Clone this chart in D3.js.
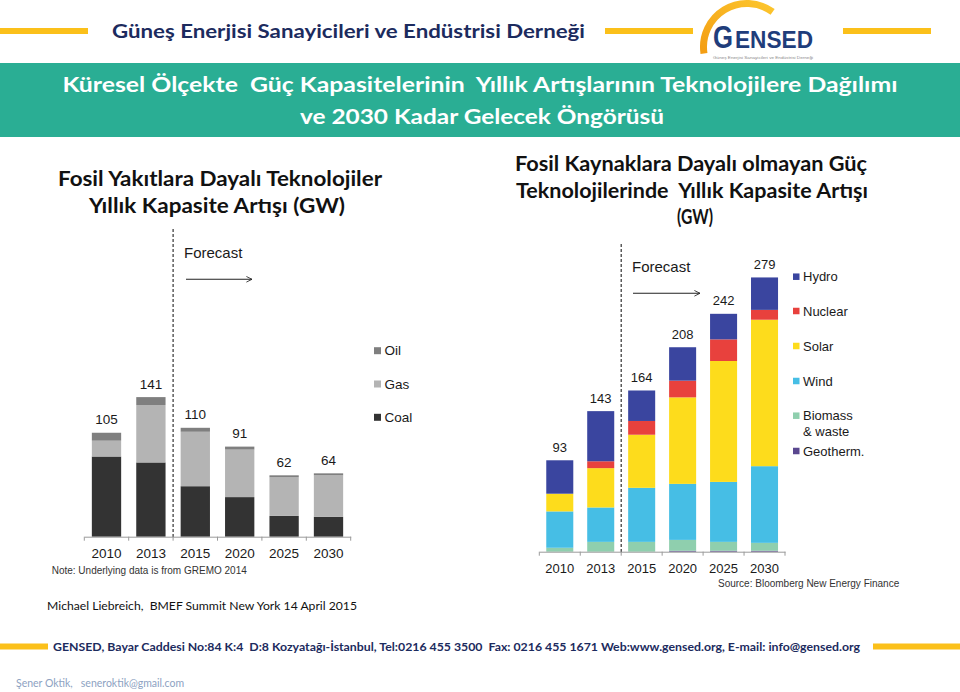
<!DOCTYPE html>
<html><head><meta charset="utf-8">
<script src="https://cdn.jsdelivr.net/npm/d3@7"></script>
<style>body{margin:0;background:#fff}svg{display:block}text{white-space:pre}</style>
</head><body>
<svg id="c" width="960" height="692"></svg>
<script>
// ---------- DATA ----------
const years = ["2010","2013","2015","2020","2025","2030"];
const fossilKeys = ["Coal","Gas","Oil"];
const coal = [81,75,51,40,21,20];
const gas  = [16,58,55,48,39,42];
const oil  = [8,8,4,3,2,2];
const fossilTotals = [105,141,110,91,62,64];
const fossilLegend = ["Oil","Gas","Coal"];

const renewKeys = ["Geotherm.","Biomass & waste","Wind","Solar","Nuclear","Hydro"];
const geotherm = [0,0,0,1,1,1];
const biomass  = [4,10,10,11,9,8];
const wind     = [37,35,55,57,61,78];
const solar    = [18,40,54,88,123,149];
const nuclear  = [0,7,14,17,22,10];
const hydro    = [34,51,31,34,26,33];
const renewTotals = [93,143,164,208,242,279];
const renewLegend = ["Hydro","Nuclear","Solar","Wind","Biomass & waste","Geotherm."];

// ---------- STYLE ----------
const CAL = "Lato, 'Open Sans', sans-serif";
const ARIAL = "'Liberation Sans', Arial, sans-serif";
const GOLD = "#fbc01a";
const NAVY = "#1c2b5e";
const fossilColor = {Coal:"#333333",Gas:"#b4b4b4",Oil:"#7f7f7f"};
const renewColor = {"Hydro":"#3a459f","Nuclear":"#e8413d","Solar":"#fddc1c","Wind":"#46bee5","Biomass & waste":"#8fcfae","Geotherm.":"#5a478f"};

const svg = d3.select("#c");
function fit(sel, w){
  sel.each(function(){
    const L = this.getComputedTextLength();
    if (Math.abs(L - w) > 1){ this.setAttribute("textLength", w); this.setAttribute("lengthAdjust","spacingAndGlyphs"); }
  });
  return sel;
}
function txt(x,y,s,opt){
  const t = svg.append("text").attr("x",x).attr("y",y).text(s)
    .attr("xml:space","preserve")
    .attr("font-family",opt.family||CAL).attr("font-size",opt.size)
    .attr("font-weight",opt.weight||"normal").attr("fill",opt.fill||"#000")
    .attr("text-anchor",opt.anchor||"start");
  if (opt.width) fit(t,opt.width);
  return t;
}

// ---------- HEADER ----------
svg.append("rect").attr("x",0).attr("y",28).attr("width",88).attr("height",6).attr("fill",GOLD);
svg.append("rect").attr("x",605).attr("y",28).attr("width",88).attr("height",6).attr("fill",GOLD);
svg.append("rect").attr("x",843).attr("y",28).attr("width",88).attr("height",6).attr("fill",GOLD);
txt(112,37.5,"Güneş Enerjisi Sanayicileri ve Endüstrisi Derneği",{size:19,weight:"bold",fill:NAVY,width:473});

// logo
const defs = svg.append("defs");
const grad = defs.append("linearGradient").attr("id","lg").attr("x1","0").attr("x2","1").attr("y1","1").attr("y2","0");
grad.append("stop").attr("offset","0").attr("stop-color","#f39c12");
grad.append("stop").attr("offset","1").attr("stop-color","#fdc82f");
svg.append("path").attr("transform","translate(747,47)")
  .attr("d", d3.arc()({innerRadius:40,outerRadius:47,startAngle:-1.72,endAngle:0.63}))
  .attr("fill","url(#lg)");
txt(713,48,"G",{family:ARIAL,size:32,weight:"bold",fill:"#1f3d7b",width:20});
txt(735,48,"ENSED",{family:ARIAL,size:23.5,weight:"bold",fill:"#1f3d7b",width:78});
txt(713,58.5,"Güneş Enerjisi Sanayicileri ve Endüstrisi Derneği",{family:ARIAL,size:4,fill:"#8a8a8a",width:100});

// teal band
svg.append("rect").attr("x",0).attr("y",63).attr("width",960).attr("height",74).attr("fill","#2aae94");
txt(480,91.5,"Küresel Ölçekte  Güç Kapasitelerinin  Yıllık Artışlarının Teknolojilere Dağılımı",{size:20,weight:"bold",fill:"#fff",anchor:"middle",width:835});
txt(482,123.5,"ve 2030 Kadar Gelecek Öngörüsü",{size:20,weight:"bold",fill:"#fff",anchor:"middle",width:364});

// subtitles
txt(220,186,"Fosil Yakıtlara Dayalı Teknolojiler",{size:21,weight:"bold",fill:"#111",anchor:"middle",width:324});
txt(217,213,"Yıllık Kapasite Artışı (GW)",{size:21,weight:"bold",fill:"#111",anchor:"middle",width:256});
txt(691,171,"Fosil Kaynaklara Dayalı olmayan Güç",{size:21,weight:"bold",fill:"#111",anchor:"middle",width:352});
txt(692,197.5,"Teknolojilerinde  Yıllık Kapasite Artışı",{size:21,weight:"bold",fill:"#111",anchor:"middle",width:352});
txt(695,224,"(GW)",{size:21,weight:"bold",fill:"#111",anchor:"middle",width:36});

// arrow marker
defs.append("marker").attr("id","arr").attr("viewBox","0 0 10 10").attr("refX",9).attr("refY",5)
  .attr("markerWidth",7).attr("markerHeight",7).attr("orient","auto").attr("markerUnits","userSpaceOnUse")
  .append("path").attr("d","M1,1 L9,5 L1,9").attr("fill","none").attr("stroke","#222").attr("stroke-width",1.2);

// ---------- GENERIC STACKED CHART ----------
function stackedChart(cfg){
  const rows = years.map((y,i)=>{ const r={year:y}; cfg.keys.forEach(k=>r[k]=cfg.series[k][i]); return r; });
  const x = d3.scaleBand().domain(years).range(cfg.xRange).padding(0);
  const y = d3.scaleLinear().domain([0,cfg.yMax]).range([cfg.base, cfg.base - cfg.yMax*cfg.pxPer]);
  const bw = x.bandwidth()*0.66;
  const stacked = d3.stack().keys(cfg.keys)(rows);
  const g = svg.append("g");
  g.selectAll("g.s").data(stacked).join("g").attr("fill",d=>cfg.colors[d.key])
    .selectAll("rect").data(d=>d).join("rect")
    .attr("x",d=>x(d.data.year)+(x.bandwidth()-bw)/2)
    .attr("width",bw)
    .attr("y",d=>y(d[1]))
    .attr("height",d=>Math.max(0,y(d[0])-y(d[1])));
  // totals
  g.selectAll("text.tot").data(years).join("text")
    .attr("x",d=>x(d)+x.bandwidth()/2).attr("y",(d,i)=>y(cfg.totals[i])-8.5)
    .attr("text-anchor","middle").attr("font-family",ARIAL).attr("font-size",cfg.fs).attr("fill","#1a1a1a")
    .text((d,i)=>cfg.totals[i]);
  // axis
  const ax = g.append("g").attr("transform",`translate(0,${cfg.base})`)
    .call(d3.axisBottom(x).tickSizeInner(0).tickSizeOuter(0).tickPadding(cfg.labPad));
  ax.select(".domain").attr("stroke","#9a9a9a");
  ax.selectAll("text").attr("font-family",ARIAL).attr("font-size",cfg.fs).attr("fill","#1a1a1a");
  const bounds = years.map(d=>x(d)).concat([x.range()[1]]);
  g.selectAll("line.tk").data(bounds).join("line")
    .attr("x1",d=>d).attr("x2",d=>d).attr("y1",cfg.base).attr("y2",cfg.base+4).attr("stroke","#9a9a9a");
  // forecast divider
  const dx = x(years[2]);
  g.append("line").attr("x1",dx).attr("x2",dx).attr("y1",cfg.dashTop).attr("y2",cfg.base)
    .attr("stroke","#333").attr("stroke-width",1.2).attr("stroke-dasharray","3,2");
  g.append("text").attr("x",cfg.fcX).attr("y",cfg.fcY).text("Forecast")
    .attr("font-family",ARIAL).attr("font-size",15).attr("fill","#1a1a1a");
  g.append("line").attr("x1",cfg.arX1).attr("x2",cfg.arX2).attr("y1",cfg.arY).attr("y2",cfg.arY)
    .attr("stroke","#222").attr("stroke-width",1.1).attr("marker-end","url(#arr)");
  // legend
  const lg = g.selectAll("g.lg").data(cfg.legend).join("g")
    .attr("transform",(d,i)=>`translate(${cfg.lgX},${cfg.lgY[i]})`);
  lg.append("rect").attr("x",0).attr("y",-cfg.sq/2).attr("width",cfg.sq).attr("height",cfg.sq).attr("fill",d=>cfg.colors[d]);
  lg.append("text").attr("x",cfg.sq+3.5).attr("y",cfg.fs*0.35)
    .attr("font-family",ARIAL).attr("font-size",cfg.fs).attr("fill","#1a1a1a")
    .each(function(d){
      const parts = d.split(" & ");
      const t = d3.select(this);
      if (parts.length===1) t.text(d);
      else { t.append("tspan").text(parts[0]); t.append("tspan").attr("x",cfg.sq+3.5).attr("dy",15.6).text("& "+parts[1]); }
    });
  return {x,y};
}

stackedChart({
  keys: fossilKeys, series:{Coal:coal,Gas:gas,Oil:oil}, totals:fossilTotals, colors:fossilColor,
  xRange:[84.3,350.7], base:536.7, yMax:150, pxPer:0.99, fs:13.5, labPad:11.7,
  dashTop:229, fcX:184, fcY:258, arX1:186, arX2:252, arY:279.3,
  legend:fossilLegend, lgX:374, lgY:[350.7,384,417.3], sq:7
});
stackedChart({
  keys: renewKeys, series:{"Geotherm.":geotherm,"Biomass & waste":biomass,"Wind":wind,"Solar":solar,"Nuclear":nuclear,"Hydro":hydro},
  totals:renewTotals, colors:renewColor,
  xRange:[539.3,785], base:551.7, yMax:300, pxPer:0.983, fs:13, labPad:12.1,
  dashTop:244, fcX:632, fcY:272, arX1:633, arX2:700, arY:293.3,
  legend:renewLegend, lgX:793, lgY:[276.7,311,346,381,415.7,451], sq:6.5
});

txt(51.7,573.5,"Note: Underlying data is from GREMO 2014",{family:ARIAL,size:10,fill:"#333"});
txt(718,587,"Source: Bloomberg New Energy Finance",{family:ARIAL,size:10,fill:"#333"});

// ---------- FOOTER ----------
txt(47,610,"Michael Liebreich,  BMEF Summit New York 14 April 2015",{size:12,fill:"#111",width:310});
svg.append("rect").attr("x",0).attr("y",643.5).attr("width",48).attr("height",6).attr("fill",GOLD);
svg.append("rect").attr("x",873).attr("y",643.5).attr("width",87).attr("height",6).attr("fill",GOLD);
txt(53,651,"GENSED, Bayar Caddesi No:84 K:4  D:8 Kozyatağı-İstanbul, Tel:0216 455 3500  Fax: 0216 455 1671 Web:www.gensed.org, E-mail: info@gensed.org",{size:11.5,weight:"bold",fill:NAVY,width:807});
txt(16,686.5,"Şener Oktik,   seneroktik@gmail.com",{size:10.5,fill:"#8da2c2",width:168});
</script>
</body></html>
